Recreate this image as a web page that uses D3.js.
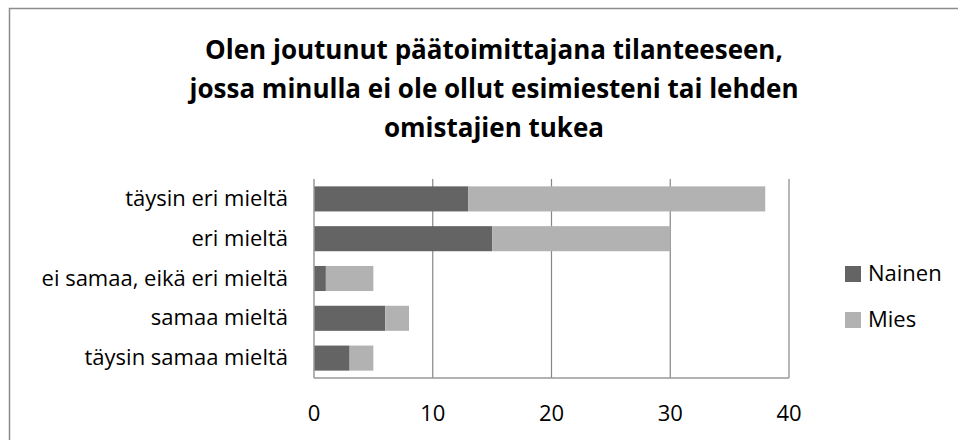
<html>
    <head>
        <meta charset='UTF-8'>
        <script src="https://d3js.org/d3.v7.min.js"></script>
        <style>
            body { margin: 0; background: #ffffff; }
            text { font-family: "Open Sans", sans-serif; fill: #000000; }
        </style>
    </head>
    <body>
        <svg id="chart" width="958" height="440"></svg>

        <script>
            // answer categories, top to bottom
            const categories = ['täysin eri mieltä', 'eri mieltä', 'ei samaa, eikä eri mieltä', 'samaa mieltä', 'täysin samaa mieltä']
            // counts per group
            const nainen = [13, 15, 1, 6, 3]
            const mies = [25, 15, 4, 2, 2]
            const seriesNames = ['Nainen', 'Mies']
            const seriesColors = ['#646464', '#b2b2b2']
            const xTicks = [0, 10, 20, 30, 40]
            const titleLines = ['Olen joutunut päätoimittajana tilanteeseen,', 'jossa minulla ei ole ollut esimiesteni tai lehden', 'omistajien tukea']

            let svg = d3.select('svg#chart')

            // outer frame (cut off at the right and bottom like the original)
            svg.append('rect')
               .attr('x', 9.5).attr('y', 8.5)
               .attr('width', 1000).attr('height', 500)
               .style('fill', 'none').style('stroke', '#8c8c8c').style('stroke-width', 1.5)

            // title
            svg.append('g').selectAll('text')
               .data(titleLines)
               .join('text')
               .attr('x', 494)
               .attr('y', (d, i) => 59 + i * 39)
               .attr('text-anchor', 'middle')
               .style('font-size', '26px')
               .style('font-weight', 'bold')
               .text(d => d)

            let margin = {left: 314, top: 179, right: 789, bottom: 378}

            let x = d3.scaleLinear().domain([0, 40]).range([margin.left, margin.right])
            let y = d3.scaleBand().domain(categories).range([margin.top, margin.bottom])
                      .paddingInner(0.37).paddingOuter(0.185)

            // vertical gridlines
            svg.append('g').selectAll('line')
               .data(xTicks.slice(1))
               .join('line')
               .attr('x1', d => x(d)).attr('x2', d => x(d))
               .attr('y1', margin.top).attr('y2', margin.bottom)
               .style('stroke', '#868686').style('stroke-width', 1.2)

            // stacked bars
            let rows = categories.map((c, i) => ({cat: c, Nainen: nainen[i], Mies: mies[i]}))
            let stacked = d3.stack().keys(seriesNames)(rows)

            svg.append('g').selectAll('g')
               .data(stacked)
               .join('g')
               .style('fill', (d, i) => seriesColors[i])
               .selectAll('rect')
               .data(d => d)
               .join('rect')
               .attr('x', d => x(d[0]))
               .attr('y', d => y(d.data.cat))
               .attr('width', d => x(d[1]) - x(d[0]))
               .attr('height', y.bandwidth())

            // axes lines
            svg.append('line')
               .attr('x1', margin.left).attr('x2', margin.left)
               .attr('y1', margin.top).attr('y2', margin.bottom)
               .style('stroke', '#999999').style('stroke-width', 1.5)
            svg.append('line')
               .attr('x1', margin.left).attr('x2', margin.right)
               .attr('y1', margin.bottom).attr('y2', margin.bottom)
               .style('stroke', '#999999').style('stroke-width', 1.5)

            // x tick labels
            svg.append('g').selectAll('text')
               .data(xTicks)
               .join('text')
               .attr('x', d => x(d))
               .attr('y', 421)
               .attr('text-anchor', 'middle')
               .style('font-size', '22px')
               .text(d => d)

            // category labels
            svg.append('g').selectAll('text')
               .data(categories)
               .join('text')
               .attr('x', 288)
               .attr('y', d => y(d) + y.bandwidth() / 2 + 7)
               .attr('text-anchor', 'end')
               .style('font-size', '22px')
               .text(d => d)

            // legend
            let legend = svg.append('g').selectAll('g')
               .data(seriesNames)
               .join('g')
               .attr('transform', (d, i) => `translate(845, ${266 + i * 46})`)
            legend.append('rect')
               .attr('width', 16).attr('height', 16)
               .style('fill', (d, i) => seriesColors[i])
            legend.append('text')
               .attr('x', 23).attr('y', 15)
               .style('font-size', '22px')
               .text(d => d)
        </script>
    </body>
</html>
